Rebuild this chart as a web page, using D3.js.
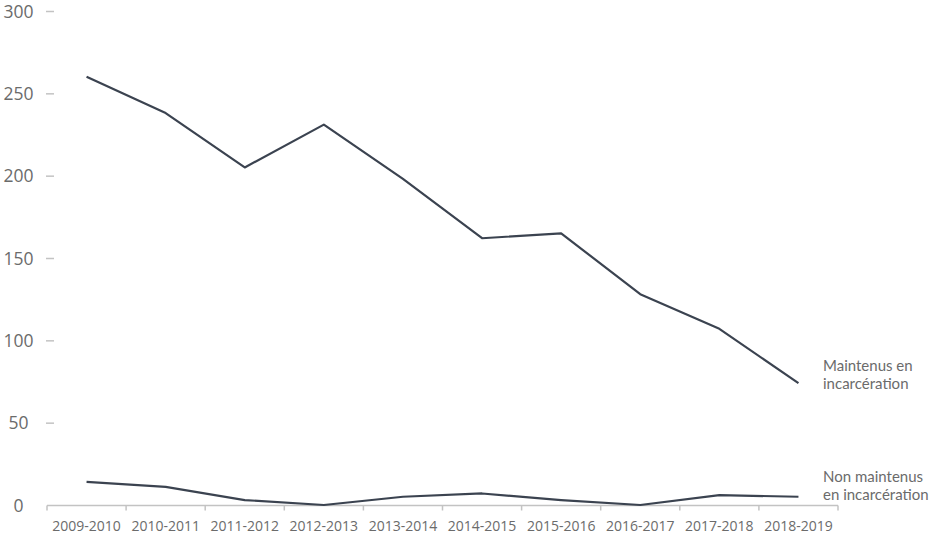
<!DOCTYPE html>
<html>
<head>
<meta charset="utf-8">
<script src="https://cdn.jsdelivr.net/npm/d3@7"></script>
<style>
  body { margin: 0; background: #fff; }
  svg { display: block; font-family: "Open Sans", sans-serif; }
</style>
</head>
<body>
<svg id="chart" width="943" height="543"></svg>
<script>
const years = ["2009-2010", "2010-2011", "2011-2012", "2012-2013", "2013-2014",
               "2014-2015", "2015-2016", "2016-2017", "2017-2018", "2018-2019"];
const maintenus = [260, 238, 205, 231, 198, 162, 165, 128, 107, 74];
const nonMaintenus = [14, 11, 3, 0, 5, 7, 3, 0, 6, 5];
const yTicks = [0, 50, 100, 150, 200, 250, 300];
const seriesLabels = [["Maintenus en", "incarcération"], ["Non maintenus", "en incarcération"]];

const svg = d3.select("#chart");
const lineColor = "#3b4350",
    textColor = "#6b6b6b",
    axisColor = "#c3c3c3";

const x = d3.scaleBand().domain(years).range([47, 838]).padding(0);
const y = d3.scaleLinear().domain([0, 300]).range([505, 11]);

// y axis: little dashes + labels, no domain line
const yAxis = svg.append("g")
    .attr("transform", "translate(54,0)")
    .call(d3.axisLeft(y).tickValues(yTicks).tickSize(8).tickPadding(0))
    .attr("font-family", null)
    .attr("font-size", null);
yAxis.select(".domain").remove();
yAxis.selectAll(".tick line")
    .attr("stroke", axisColor)
    .attr("stroke-width", 1.5)
    .style("display", d => d === 0 ? "none" : null);
yAxis.selectAll(".tick text")
    .attr("x", -35.5)
    .attr("dy", "0.35em")
    .attr("text-anchor", "middle")
    .attr("fill", textColor)
    .style("font-size", "17.5px");

// x axis: baseline, boundary ticks, centered labels
const xAxis = svg.append("g")
    .attr("transform", `translate(0,${y(0) + 0.5})`);
xAxis.append("line")
    .attr("x1", x.range()[0]).attr("x2", x.range()[1])
    .attr("stroke", axisColor).attr("stroke-width", 1.5);
xAxis.selectAll(".bound")
    .data(years.map(d => x(d)).concat([x.range()[1]]))
    .join("line")
    .attr("class", "bound")
    .attr("x1", d => d).attr("x2", d => d)
    .attr("y1", 0).attr("y2", 5)
    .attr("stroke", axisColor).attr("stroke-width", 1.5);
xAxis.selectAll(".lbl")
    .data(years)
    .join("text")
    .attr("class", "lbl")
    .attr("x", d => x(d) + x.bandwidth() / 2)
    .attr("y", 25)
    .attr("text-anchor", "middle")
    .attr("fill", textColor)
    .style("font-size", "14px")
    .text(d => d);

const line = d3.line()
    .x((d, i) => x(years[i]) + x.bandwidth() / 2)
    .y(d => y(d));

[maintenus, nonMaintenus].forEach((series, k) => {
    svg.append("path")
        .datum(series)
        .attr("fill", "none")
        .attr("stroke", lineColor)
        .attr("stroke-width", 2.2)
        .attr("stroke-linejoin", "round")
        .attr("d", line);

    // series name, two lines, to the right of the last point
    const last = series[series.length - 1];
    const lbl = svg.append("text")
        .attr("x", 823)
        .attr("y", y(last) + (k === 0 ? -12 : -15))
        .attr("fill", textColor)
        .style("font-family", "Lato, sans-serif")
        .style("font-size", "15px");
    lbl.selectAll("tspan")
        .data(seriesLabels[k])
        .join("tspan")
        .attr("x", 823)
        .attr("dy", (d, i) => i ? 18 : 0)
        .text(d => d);
});
</script>
</body>
</html>
